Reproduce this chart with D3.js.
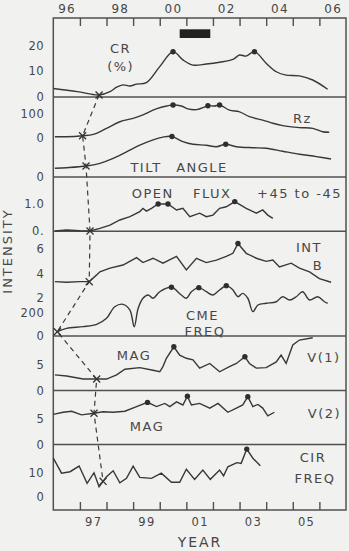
<!DOCTYPE html>
<html>
<head>
<meta charset="utf-8">
<script src="https://cdn.jsdelivr.net/npm/d3@7/dist/d3.min.js"></script>
<style>
body { margin: 0; background: #f1f1ef; }
svg { display: block; font-family: "DejaVu Sans", sans-serif; }
.lbl { fill: #474747; font-size: 13px; letter-spacing: 1.5px; }
.axis text { fill: #474747; }
.axis line { stroke: #505050; stroke-width: 1.4; }
.curve { fill: none; stroke: #383838; stroke-width: 1.4; }
</style>
</head>
<body>
<script>
const width = 349, height = 551;
const frameLeft = 53.3, frameRight = 346, frameTop = 18, frameBottom = 510;

// year labels
const topTickYears = [1996, 1998, 2000, 2002, 2004, 2006];
const topTickLabels = ["96", "98", "00", "02", "04", "06"];
const bottomTickYears = [1997, 1999, 2001, 2003, 2005];
const bottomTickLabels = ["97", "99", "01", "03", "05"];
const yearTicks = [1997, 1998, 1999, 2000, 2001, 2002, 2003, 2004, 2005, 2006];

// black bar at top (years)
const maxPeriod = [2000.75, 2001.9];

// series, [year, value]
const crSeries = [[1996.0,3.3],[1996.9,2.1],[1997.72,0.8],[1998.13,2.1],[1998.38,3.8],[1998.62,4.7],[1998.88,4.3],[1999.13,5.0],[1999.5,5.6],[2000.0,11.8],[2000.5,17.6],[2000.87,14.4],[2001.25,12.4],[2001.75,12.8],[2002.25,13.5],[2002.75,14.6],[2003.0,16.3],[2003.25,15.9],[2003.56,17.6],[2004.0,13.1],[2004.38,9.8],[2004.75,8.5],[2005.25,8.2],[2005.75,6.6],[2006.31,3.0]];
const crPeaks = [2000.5, 2003.56];

const rzSeries = [[1996.06,6.6],[1996.5,6.6],[1997.1,10.7],[1997.5,16],[1998.0,41],[1998.5,68],[1999.0,82],[1999.37,96],[1999.87,121],[2000.5,137],[2000.81,133],[2001.06,121],[2001.38,118],[2001.62,126],[2001.81,134],[2002.06,133],[2002.25,137],[2002.62,116],[2003.0,109],[2003.37,89],[2003.87,75],[2004.25,62],[2004.62,52],[2005.25,44],[2005.75,41],[2006.12,27],[2006.37,25]];
const rzPeaks = [2000.5, 2001.81, 2002.25];

const tiltSeries = [[1996.06,14.5],[1996.5,15.5],[1997.23,18.3],[1997.75,22.8],[1998.25,31],[1998.75,42],[1999.25,53],[1999.75,62],[2000.12,66.5],[2000.46,67.5],[2000.87,59],[2001.25,54.5],[2001.75,53],[2002.13,50.5],[2002.48,54.5],[2002.88,50.5],[2003.5,48.8],[2004.0,48],[2004.62,43],[2005.25,38],[2005.88,34],[2006.44,30]];
const tiltPeaks = [2000.46, 2002.48];

const fluxSeries = [[1996.06,0.01],[1996.5,0.05],[1997.0,0.02],[1997.38,0.01],[1997.75,0.11],[1998.13,0.23],[1998.5,0.42],[1998.88,0.54],[1999.25,0.73],[1999.37,0.85],[1999.5,0.75],[1999.69,0.85],[1999.94,1.01],[2000.31,1.01],[2000.63,0.79],[2000.87,0.85],[2001.13,0.54],[2001.5,0.67],[2001.75,0.54],[2002.0,0.6],[2002.25,0.85],[2002.5,0.91],[2002.82,1.1],[2003.25,0.85],[2003.63,0.67],[2003.87,0.79],[2004.06,0.6],[2004.25,0.48]];
const fluxPeaks = [1999.94, 2000.31, 2002.82];

const intbSeries = [[1996.06,3.35],[1996.5,3.3],[1997.0,3.35],[1997.35,3.35],[1997.63,3.9],[1997.75,4.15],[1998.13,4.45],[1998.62,4.7],[1999.13,5.3],[1999.37,4.9],[1999.75,5.25],[2000.12,4.85],[2000.63,5.4],[2001.0,4.3],[2001.38,5.25],[2001.75,4.9],[2002.13,5.1],[2002.5,5.4],[2002.75,5.65],[2002.94,6.45],[2003.25,5.65],[2003.63,5.25],[2004.0,5.0],[2004.25,5.1],[2004.5,4.55],[2004.94,4.85],[2005.25,4.45],[2005.63,4.15],[2006.0,3.6],[2006.44,3.3]];
const intbPeaks = [2002.94];

const cmeSeries = [[1996.15,37],[1996.5,66],[1997.12,80],[1997.63,100],[1998.0,152],[1998.31,251],[1998.62,272],[1998.88,223],[1999.04,80],[1999.19,238],[1999.37,324],[1999.56,352],[1999.75,324],[2000.0,380],[2000.44,418],[2000.81,352],[2001.0,324],[2001.19,380],[2001.47,415],[2001.75,380],[2002.0,352],[2002.25,395],[2002.5,432],[2002.75,395],[2002.94,337],[2003.12,366],[2003.31,324],[2003.5,209],[2003.69,266],[2004.0,281],[2004.38,294],[2004.62,337],[2004.88,309],[2005.13,337],[2005.37,380],[2005.63,309],[2005.94,337],[2006.19,294],[2006.31,281]];
const cmePeaks = [2000.44, 2001.47, 2002.5];

const v1Series = [[1996.06,3.0],[1996.5,2.8],[1997.12,2.2],[1997.63,2.2],[1998.0,2.2],[1998.38,3.0],[1998.69,4.1],[1999.25,4.4],[1999.75,3.9],[2000.0,3.6],[2000.12,4.6],[2000.25,6.2],[2000.53,8.4],[2000.75,6.8],[2001.0,6.2],[2001.25,5.9],[2001.5,4.3],[2001.88,5.2],[2002.25,3.6],[2002.62,4.6],[2002.88,5.2],[2003.2,6.5],[2003.37,5.2],[2003.63,4.3],[2004.0,4.4],[2004.38,5.5],[2004.56,6.8],[2004.75,5.2],[2005.0,8.75],[2005.25,9.7],[2005.75,10.15]];
const v1Peaks = [2000.53, 2003.2];

const v2Series = [[1996.0,5.8],[1996.37,6.2],[1996.69,6.4],[1997.06,5.7],[1997.53,6.0],[1997.87,6.3],[1998.25,6.2],[1998.69,6.4],[1999.13,7.3],[1999.54,8.1],[1999.88,7.3],[2000.19,7.9],[2000.38,7.3],[2000.63,8.2],[2000.87,7.6],[2001.04,9.3],[2001.19,7.6],[2001.5,7.9],[2001.88,7.0],[2002.19,7.9],[2002.56,6.2],[2002.88,7.0],[2003.12,7.6],[2003.31,9.2],[2003.5,7.3],[2003.69,7.7],[2003.87,7.0],[2004.06,5.5],[2004.31,6.2]];
const v2Peaks = [1999.54, 2001.04, 2003.31];

const cirSeries = [[1996.0,15.9],[1996.31,9.8],[1996.63,10.4],[1996.97,12.7],[1997.27,5.7],[1997.53,10.0],[1997.72,4.3],[1998.0,8.4],[1998.25,10.8],[1998.5,5.9],[1998.75,7.7],[1999.0,12.7],[1999.25,8.1],[1999.69,7.7],[2000.06,9.8],[2000.44,6.1],[2000.75,6.1],[2001.0,11.4],[2001.31,7.3],[2001.62,11.1],[2001.9,7.3],[2002.25,11.1],[2002.4,8.7],[2002.56,12.4],[2002.9,14.1],[2003.06,13.8],[2003.27,19.6],[2003.5,15.9],[2003.78,12.8]];
const cirPeaks = [2003.27];

// crossing points joined by the dashed line (top to bottom)
const crossSeries = ["cr", "rz", "tilt", "flux", "intb", "cme", "v1", "v2", "cir"];
const crossYears = [1997.72, 1997.1, 1997.23, 1997.38, 1997.35, 1996.15, 1997.63, 1997.53, 1997.87];

// left tick values / labels
const crTicks = [0, 10, 20], crTickLabels = ["0", "10", "20"];
const rzTicks = [0, 100], rzTickLabels = ["0", "100"];
const tiltTicks = [0], tiltTickLabels = ["0"];
const fluxTicks = [0, 1], fluxTickLabels = ["0.", "1.0"];
const intbTicks = [2, 4, 6], intbTickLabels = ["2", "4", "6"];
const cmeTicks = [0, 200], cmeTickLabels = ["0", "200"];
const v1Ticks = [0, 5], v1TickLabels = ["0", "5"];
const v2Ticks = [0, 5], v2TickLabels = ["0", "5"];
const cirTicks = [0, 10], cirTickLabels = ["0", "10"];

let svg = d3.select("body").append("svg")
    .attr("width", width)
    .attr("height", height);

let x = d3.scaleLinear().domain([1996, 2007]).range([frameLeft, frameRight]);

let yCr = d3.scaleLinear().domain([0, 20]).range([97, 45.5]);
let yRz = d3.scaleLinear().domain([0, 100]).range([138.3, 114]);
let yTilt = d3.scaleLinear().domain([0, 70]).range([177, 135]);
let yFlux = d3.scaleLinear().domain([0, 1]).range([231.3, 204.3]);
let yIntb = d3.scaleLinear().domain([2, 6]).range([298.3, 249]);
let yCme = d3.scaleLinear().domain([0, 200]).range([336, 312.7]);
let yV1 = d3.scaleLinear().domain([0, 5]).range([390.5, 364.5]);
let yV2 = d3.scaleLinear().domain([0, 5]).range([444.5, 418.5]);
let yCir = d3.scaleLinear().domain([0, 10]).range([497.3, 472.7]);

const smooth = d3.curveCatmullRom.alpha(0.5);
let panels = {
    cr:   {data: crSeries,   y: yCr,   curve: smooth, peaks: crPeaks,   ticks: crTicks,   labels: crTickLabels},
    rz:   {data: rzSeries,   y: yRz,   curve: smooth, peaks: rzPeaks,   ticks: rzTicks,   labels: rzTickLabels},
    tilt: {data: tiltSeries, y: yTilt, curve: smooth, peaks: tiltPeaks, ticks: tiltTicks, labels: tiltTickLabels},
    flux: {data: fluxSeries, y: yFlux, curve: d3.curveLinear, peaks: fluxPeaks, ticks: fluxTicks, labels: fluxTickLabels},
    intb: {data: intbSeries, y: yIntb, curve: d3.curveLinear, peaks: intbPeaks, ticks: intbTicks, labels: intbTickLabels},
    cme:  {data: cmeSeries,  y: yCme,  curve: smooth, peaks: cmePeaks,  ticks: cmeTicks,  labels: cmeTickLabels},
    v1:   {data: v1Series,   y: yV1,   curve: d3.curveLinear, peaks: v1Peaks, ticks: v1Ticks, labels: v1TickLabels},
    v2:   {data: v2Series,   y: yV2,   curve: d3.curveLinear, peaks: v2Peaks, ticks: v2Ticks, labels: v2TickLabels},
    cir:  {data: cirSeries,  y: yCir,  curve: d3.curveLinear, peaks: cirPeaks, ticks: cirTicks, labels: cirTickLabels}
};

function valueAt(data, year) {
    for (let i = 0; i < data.length - 1; i++) {
        let a = data[i], b = data[i + 1];
        if (year >= a[0] && year <= b[0]) {
            return a[1] + (b[1] - a[1]) * (year - a[0]) / (b[0] - a[0]);
        }
    }
    return data[data.length - 1][1];
}

// frame
svg.append("rect")
    .attr("x", frameLeft).attr("y", frameTop)
    .attr("width", frameRight - frameLeft).attr("height", frameBottom - frameTop)
    .attr("fill", "none").attr("stroke", "#505050").attr("stroke-width", 1.5);

// panel dividers
[yCr(0), yTilt(0), yFlux(0), yCme(0), yV1(0), yV2(0)].forEach(function (yy) {
    svg.append("line")
        .attr("x1", frameLeft).attr("x2", frameRight)
        .attr("y1", yy).attr("y2", yy)
        .attr("stroke", "#505050").attr("stroke-width", 1.5);
});

// year ticks
svg.append("g").attr("class", "axis")
    .attr("transform", "translate(0," + frameTop + ")")
    .call(d3.axisBottom(x).tickValues(yearTicks).tickSize(8).tickFormat(""))
    .call(g => g.select(".domain").remove());
svg.append("g").attr("class", "axis")
    .attr("transform", "translate(0," + frameBottom + ")")
    .call(d3.axisTop(x).tickValues(yearTicks).tickSize(8).tickFormat(""))
    .call(g => g.select(".domain").remove());

// year labels, centred on the year
svg.append("g").attr("class", "axis")
    .attr("transform", "translate(0," + frameTop + ")")
    .call(d3.axisTop(x).tickValues(topTickYears.map(d => d + 0.5)).tickSize(0).tickPadding(5)
        .tickFormat((d, i) => topTickLabels[i]))
    .call(g => g.select(".domain").remove())
    .call(g => g.attr("font-family", null).attr("font-size", null))
    .selectAll("text").style("font-size", "12px").style("letter-spacing", "1.3px");
svg.append("g").attr("class", "axis")
    .attr("transform", "translate(0," + frameBottom + ")")
    .call(d3.axisBottom(x).tickValues(bottomTickYears.map(d => d + 0.5)).tickSize(0).tickPadding(8)
        .tickFormat((d, i) => bottomTickLabels[i]))
    .call(g => g.select(".domain").remove())
    .call(g => g.attr("font-family", null).attr("font-size", null))
    .selectAll("text").style("font-size", "11.5px").style("letter-spacing", "1.3px");

// left value labels
Object.keys(panels).forEach(function (k) {
    let p = panels[k];
    svg.append("g").attr("class", "axis")
        .attr("transform", "translate(" + frameLeft + ",0)")
        .call(d3.axisLeft(p.y).tickValues(p.ticks).tickSize(0).tickPadding(9)
            .tickFormat((d, i) => p.labels[i]))
        .call(g => g.select(".domain").remove())
        .call(g => g.attr("font-family", null).attr("font-size", null))
        .selectAll("text").style("font-size", "11.5px").style("letter-spacing", "0.6px");
});

// curves and peak dots
Object.keys(panels).forEach(function (k) {
    let p = panels[k];
    let line = d3.line()
        .x(d => x(d[0]))
        .y(d => p.y(d[1]))
        .curve(p.curve);
    svg.append("path")
        .attr("class", "curve")
        .attr("d", line(p.data));
    svg.selectAll(".dot-" + k)
        .data(p.peaks)
        .enter().append("circle")
        .attr("class", "dot-" + k)
        .attr("cx", d => x(d))
        .attr("cy", d => p.y(valueAt(p.data, d)))
        .attr("r", 2.7)
        .attr("fill", "#2e2e2e");
});

// dashed line through the crossing marks
let crossPts = crossSeries.map(function (k, i) {
    let p = panels[k];
    return [x(crossYears[i]), p.y(valueAt(p.data, crossYears[i]))];
});
svg.append("path")
    .attr("d", d3.line()(crossPts))
    .attr("fill", "none")
    .attr("stroke", "#3a3a3a")
    .attr("stroke-width", 1.2)
    .attr("stroke-dasharray", "5,4");
svg.selectAll(".cross")
    .data(crossPts)
    .enter().append("path")
    .attr("class", "cross")
    .attr("transform", d => "translate(" + d[0] + "," + d[1] + ")")
    .attr("d", d3.symbol().type(d3.symbolTimes).size(34))
    .attr("fill", "none")
    .attr("stroke", "#333")
    .attr("stroke-width", 1.3);

// black bar
svg.append("rect")
    .attr("x", x(maxPeriod[0]))
    .attr("width", x(maxPeriod[1]) - x(maxPeriod[0]))
    .attr("y", 29.3).attr("height", 8.7)
    .attr("fill", "#222");

// panel labels
function label(t, xx, yy, anchor) {
    svg.append("text").attr("class", "lbl")
        .attr("x", xx).attr("y", yy)
        .attr("text-anchor", anchor || "middle")
        .text(t);
}
label("CR", 120.5, 53.3);
label("(%)", 120.7, 70.5);
label("Rz", 302.5, 123.3);
label("TILT", 146, 172.3);
label("ANGLE", 202, 172.3);
label("OPEN", 131.7, 197.7, "start");
label("FLUX", 193, 197.7, "start");
label("+45 to -45", 342, 197.7, "end");
label("INT", 309, 251.7);
label("B", 318, 270);
label("CME", 202.5, 320);
label("FREQ", 205, 335.5);
label("MAG", 134, 360);
label("V(1)", 324, 362);
label("V(2)", 324.5, 417.7);
label("MAG", 147, 431);
label("CIR", 313, 461.7);
label("FREQ", 315, 483.3);

svg.append("text").attr("class", "lbl")
    .attr("transform", "translate(12.3,251)rotate(-90)")
    .attr("text-anchor", "middle")
    .style("letter-spacing", "2px")
    .text("INTENSITY");

svg.append("text").attr("class", "lbl")
    .attr("x", 200).attr("y", 546.5)
    .attr("text-anchor", "middle")
    .style("font-size", "14px")
    .style("letter-spacing", "2px")
    .text("YEAR");
</script>
</body>
</html>
